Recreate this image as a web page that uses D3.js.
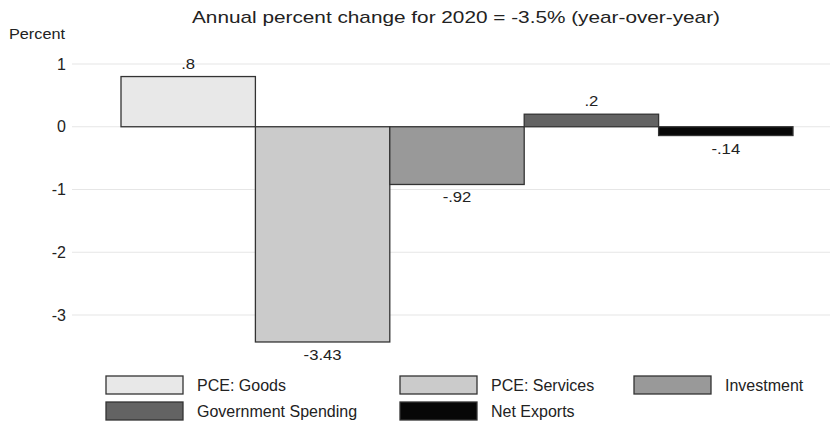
<!DOCTYPE html>
<html><head><meta charset="utf-8">
<script src="https://cdn.jsdelivr.net/npm/d3@7"></script>
<style>body{margin:0;background:#fff}svg{display:block;font-family:"Liberation Sans",Arial,sans-serif}</style>
</head><body><svg id="c" width="830" height="421"></svg>
<script>
const categories = ["PCE: Goods","PCE: Services","Investment","Government Spending","Net Exports"];
const values = [0.8,-3.43,-0.92,0.2,-0.14];
const valueLabels = [".8","-3.43","-.92",".2","-.14"];
const colors = ["#e8e8e8","#cbcbcb","#999999","#636363","#070707"];
const yTicks = [1,0,-1,-2,-3];
const yTickLabels = ["1","0","-1","-2","-3"];
const title = "Annual percent change for 2020 = -3.5% (year-over-year)";

const svg = d3.select("#c");
const x = d3.scaleBand().domain(categories).range([121,793]).padding(0);
const y = d3.scaleLinear().domain([-3,1]).range([315,64]);

// gridlines
svg.append("g").selectAll("line").data(yTicks).join("line")
  .attr("x1",72).attr("x2",830).attr("y1",d=>y(d)).attr("y2",d=>y(d))
  .attr("stroke","#e6e6e6").attr("stroke-width",1.2);
// y axis labels
const yAxis = d3.axisLeft(y).tickValues(yTicks).tickSize(0).tickPadding(0)
  .tickFormat((d,i)=>yTickLabels[i]);
const ga = svg.append("g").attr("transform","translate(66,0)").call(yAxis);
ga.select(".domain").remove();
ga.selectAll("text").attr("font-size",16).attr("fill","#222").attr("font-family","Liberation Sans, Arial, sans-serif");

svg.append("text").attr("x",9).attr("y",39).attr("font-size",15).attr("fill","#222")
  .attr("textLength",56).attr("lengthAdjust","spacingAndGlyphs").text("Percent");
svg.append("text").attr("x",192).attr("y",23).attr("font-size",17).attr("fill","#222")
  .attr("textLength",528).attr("lengthAdjust","spacingAndGlyphs").text(title);

// bars
svg.append("g").selectAll("rect").data(categories).join("rect")
  .attr("x",d=>x(d)).attr("width",x.bandwidth())
  .attr("y",(d,i)=>y(Math.max(0,values[i])))
  .attr("height",(d,i)=>Math.abs(y(values[i])-y(0)))
  .attr("fill",(d,i)=>colors[i]).attr("stroke","#333").attr("stroke-width",1.3);

// value labels
svg.append("g").selectAll("text").data(categories).join("text")
  .attr("transform",(d,i)=>`translate(${x(d)+x.bandwidth()/2},${values[i]>=0 ? y(values[i])-8 : y(values[i])+18}) scale(1.15,1)`)
  .attr("text-anchor","middle").attr("font-size",14.5).attr("fill","#222")
  .text((d,i)=>valueLabels[i]);

// legend
const legPos = [[106,376],[400,376],[634,376],[106,402],[400,402]];
const lg = svg.append("g").selectAll("g").data(categories).join("g")
  .attr("transform",(d,i)=>`translate(${legPos[i][0]},${legPos[i][1]})`);
lg.append("rect").attr("width",77).attr("height",18)
  .attr("fill",(d,i)=>colors[i]).attr("stroke","#333").attr("stroke-width",1.3);
lg.append("text").attr("x",91).attr("y",15).attr("font-size",16).attr("fill","#222").text(d=>d);
</script></body></html>
